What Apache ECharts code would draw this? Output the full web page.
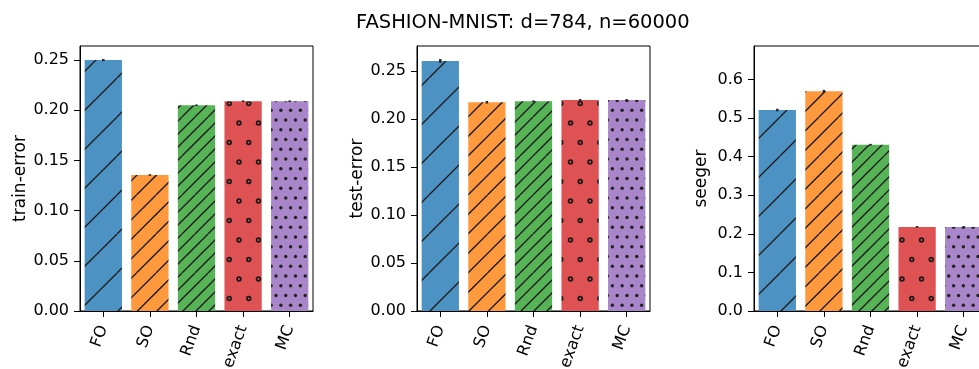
<!DOCTYPE html>
<html>
<head>
<meta charset="utf-8">
<script src="https://cdn.jsdelivr.net/npm/echarts@6/dist/echarts.min.js"></script>
<style>
html,body{margin:0;padding:0;background:#fff;}
#chart{width:979px;height:369px;}
</style>
</head>
<body>
<div id="chart"></div>
<script>
const title = 'FASHION-MNIST: d=784, n=60000';
const categories = ['FO', 'SO', 'Rnd', 'exact', 'MC'];

const trainError = [0.250, 0.1355, 0.205, 0.209, 0.209];
const trainErrorCI = [0.0006, 0.0003, 0.0003, 0.0003, 0.0003];
const testError = [0.2604, 0.2174, 0.2184, 0.2198, 0.2198];
const testErrorCI = [0.0015, 0.0008, 0.0004, 0.0004, 0.0004];
const seeger = [0.521, 0.570, 0.431, 0.218, 0.218];
const seegerCI = [0.002, 0.002, 0.001, 0.001, 0.001];

const panelNames = ['train-error', 'test-error', 'seeger'];
const trainTicks = [0, 0.05, 0.10, 0.15, 0.20, 0.25];
const testTicks = [0, 0.05, 0.10, 0.15, 0.20, 0.25];
const seegerTicks = [0, 0.1, 0.2, 0.3, 0.4, 0.5, 0.6];

const barColors = ['#4c92c3', '#ff993e', '#56b356', '#de5253', '#a985ca'];
const hatches = ['/', '//', '///', 'o', '.'];

const FONT = 'DejaVu Sans';
const TICK_FS = 16;
const TILE = 39;

function makePattern(bg, hatch) {
  const c = document.createElement('canvas');
  c.width = TILE; c.height = TILE;
  const g = c.getContext('2d');
  g.fillStyle = bg;
  g.fillRect(0, 0, TILE, TILE);
  g.strokeStyle = '#1a1a1a';
  g.fillStyle = '#222';
  if (hatch[0] === '/') {
    const n = hatch.length;
    const s = TILE / n;
    g.lineWidth = 1.3;
    for (let k = -n - 1; k <= n + 1; k++) {
      g.beginPath();
      g.moveTo(k * s, TILE);
      g.lineTo(k * s + TILE, 0);
      g.stroke();
    }
  } else if (hatch === 'o') {
    const s = TILE / 2;
    g.lineWidth = 1.7;
    const pts = [];
    for (let r = 0; r < 2; r++) {
      for (let j = 0; j < 2; j++) {
        pts.push([j * s + (r % 2 ? s / 2 : 0) + 5, r * s + 6]);
      }
    }
    pts.forEach(([x, y]) => {
      for (let dx = -TILE; dx <= TILE; dx += TILE) {
        for (let dy = -TILE; dy <= TILE; dy += TILE) {
          g.beginPath();
          g.arc(x + dx, y + dy, 1.9, 0, Math.PI * 2);
          g.stroke();
        }
      }
    });
  } else if (hatch === '.') {
    const s = TILE / 4;
    for (let r = 0; r < 4; r++) {
      for (let j = 0; j < 4; j++) {
        const x = j * s + (r % 2 ? s / 2 : 0) + 3;
        const y = r * s + 3;
        for (let dx = -TILE; dx <= TILE; dx += TILE) {
          for (let dy = -TILE; dy <= TILE; dy += TILE) {
            g.beginPath();
            g.arc(x + dx, y + dy, 1.7, 0, Math.PI * 2);
            g.fill();
          }
        }
      }
    }
  }
  return { image: c, repeat: 'repeat' };
}

const patterns = barColors.map((c, i) => makePattern(c, hatches[i]));

const panels = [
  { values: trainError, ci: trainErrorCI, ticks: trainTicks, max: 0.264, interval: 0.05, digits: 2, left: 80, gap: 51 },
  { values: testError, ci: testErrorCI, ticks: testTicks, max: 0.276, interval: 0.05, digits: 2, left: 417, gap: 51 },
  { values: seeger, ci: seegerCI, ticks: seegerTicks, max: 0.687, interval: 0.1, digits: 1, left: 754, gap: 44 }
];

const grid = [], xAxis = [], yAxis = [], series = [];
panels.forEach((p, k) => {
  grid.push({ left: p.left, width: 233, top: 46, height: 265, show: true, borderColor: '#000', borderWidth: 1,
    backgroundColor: 'transparent', outerBoundsMode: 'none', containLabel: false });
  xAxis.push({
    type: 'category', gridIndex: k, data: categories,
    axisLine: { show: true, lineStyle: { color: '#000', width: 1 } },
    axisTick: { show: true, alignWithLabel: true, length: 6, lineStyle: { color: '#000', width: 1 } },
    axisLabel: { rotate: 70, margin: 15, color: '#000', fontFamily: FONT, fontSize: TICK_FS, interval: 0 },
    splitLine: { show: false }
  });
  yAxis.push({
    type: 'value', gridIndex: k, min: 0, max: p.max, interval: p.interval,
    name: panelNames[k], nameLocation: 'middle', nameGap: p.gap,
    nameTextStyle: { color: '#000', fontFamily: FONT, fontSize: 17 },
    axisLine: { show: true, lineStyle: { color: '#000', width: 1 } },
    axisTick: { show: true, length: 6, lineStyle: { color: '#000', width: 1 }, customValues: p.ticks },
    axisLabel: { margin: 11, color: '#000', fontFamily: FONT, fontSize: TICK_FS, customValues: p.ticks,
      formatter: v => Number(v).toFixed(p.digits) },
    splitLine: { show: false }
  });
  series.push({
    type: 'bar', xAxisIndex: k, yAxisIndex: k, barCategoryGap: '20%',
    data: p.values.map((v, i) => ({ value: v, itemStyle: { color: patterns[i] } })),
    silent: true
  });
  series.push({
    type: 'custom', xAxisIndex: k, yAxisIndex: k, z: 5, silent: true,
    encode: { x: 0, y: 1 },
    data: p.values.map((v, i) => [i, v, p.ci[i]]),
    renderItem: (params, api) => {
      const x = api.value(0), v = api.value(1), e = api.value(2);
      const a = api.coord([x, v - e]), b = api.coord([x, v + e]);
      return { type: 'line', shape: { x1: a[0], y1: a[1] + 0.5, x2: b[0], y2: b[1] - 0.5 },
        style: { stroke: '#2a2a2a', lineWidth: 2.5 } };
    }
  });
});

const chart = echarts.init(document.getElementById('chart'), null, { renderer: 'canvas' });
chart.setOption({
  animation: false,
  title: { text: title, left: 351, top: 8, textStyle: { color: '#000', fontFamily: FONT, fontSize: 19.5, fontWeight: 'normal' } },
  grid, xAxis, yAxis, series
});
</script>
</body>
</html>
